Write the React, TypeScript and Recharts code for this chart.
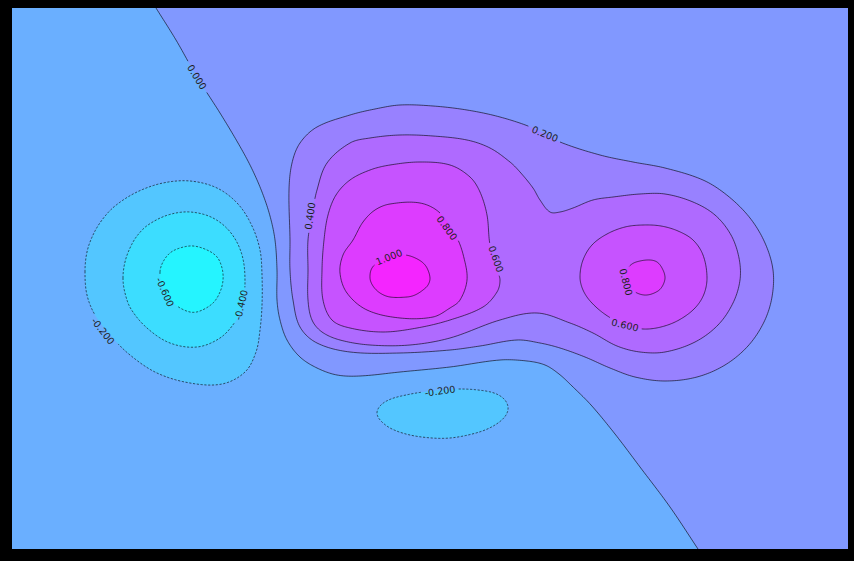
import React from "react";
import { ComposedChart, Scatter, XAxis, YAxis, CartesianGrid } from "recharts";

type Pt = [number, number];

// contour vertices, in plot units (x: 12..848, y: 8..549 downward)
const ZERO_LINE: Pt[] = [
  [156, 8], [176, 40], [197, 77], [220, 113], [238, 143], [251, 167], [262, 192],
  [270, 216], [275, 240], [277, 270], [277, 300], [280, 320], [287, 340], [300, 357],
  [317, 368], [337, 375], [360, 376], [400, 372], [450, 367], [500, 360], [527, 361],
  [545, 365], [559, 374], [572, 386], [591, 405], [615, 434], [640, 467], [670, 507],
  [698, 549],
];

const POS_02: Pt[] = [
  [400, 105], [433, 106], [467, 110], [500, 117], [533, 128], [560, 142], [600, 155],
  [633, 162], [665, 168], [703, 180], [728, 196], [750, 218], [765, 243], [773, 270],
  [772, 297], [764, 322], [748, 346], [725, 365], [697, 377], [665, 381], [635, 377],
  [610, 368], [585, 357], [560, 348], [540, 343], [517, 340], [480, 346], [450, 350],
  [400, 353], [350, 352], [317, 343], [300, 327], [293, 300], [290, 270], [290, 240],
  [289, 190], [292, 163], [300, 143], [317, 127], [350, 115], [375, 109],
];

const POS_04: Pt[] = [
  [308, 240], [308, 270], [308, 300], [312, 320], [322, 332], [340, 340], [370, 345],
  [410, 345], [450, 338], [500, 320], [537, 313], [570, 323], [593, 333], [617, 346],
  [640, 352], [665, 352], [695, 342], [718, 325], [733, 303], [740, 280], [739, 258],
  [731, 235], [715, 215], [693, 202], [665, 194], [640, 194], [613, 197], [593, 200],
  [573, 208], [560, 212], [550, 212], [540, 200], [533, 188], [520, 172], [510, 162],
  [490, 148], [467, 140], [433, 136], [400, 135], [370, 138], [350, 143], [327, 163],
  [317, 190], [312, 215],
];

const POS_06_LEFT: Pt[] = [
  [390, 165], [420, 162], [450, 165], [470, 177], [480, 192], [487, 215], [490, 245],
  [497, 270], [500, 280], [497, 292], [483, 307], [450, 320], [417, 328], [383, 332],
  [350, 328], [332, 320], [323, 300], [322, 270], [324, 240], [328, 215], [336, 195],
  [350, 180], [370, 170],
];

const POS_08_LEFT: Pt[] = [
  [390, 204], [420, 203], [440, 213], [457, 238], [464, 258], [467, 280], [460, 300],
  [450, 308], [433, 317], [400, 318], [367, 310], [347, 293], [340, 273], [343, 255],
  [353, 240], [363, 222], [375, 210],
];

const POS_10: Pt[] = [
  [370, 278], [372, 268], [380, 261], [393, 255], [405, 255], [413, 257], [422, 262],
  [427, 268], [430, 278], [428, 285], [423, 290], [415, 295], [407, 297], [390, 297],
  [380, 293], [373, 286],
];

const POS_06_RIGHT: Pt[] = [
  [580, 277], [583, 260], [592, 245], [607, 234], [625, 227], [643, 225], [661, 226],
  [678, 231], [693, 240], [703, 255], [707, 277], [704, 294], [695, 308], [679, 320],
  [661, 327], [643, 329], [625, 325], [606, 315], [591, 302], [583, 290],
];

const POS_08_RIGHT: Pt[] = [
  [627, 270], [632, 264], [640, 261], [650, 260], [657, 262], [662, 268], [665, 277],
  [663, 285], [658, 291], [647, 295], [637, 293], [630, 287], [626, 280],
];

const NEG_02_LEFT: Pt[] = [
  [85, 272], [87, 252], [93, 235], [102, 220], [115, 206], [137, 192], [163, 183],
  [190, 181], [217, 188], [238, 204], [252, 226], [260, 250], [262, 275], [262, 305],
  [260, 330], [256, 352], [245, 372], [222, 384], [190, 383], [157, 373], [130, 355],
  [110, 335], [95, 315], [87, 295],
];

const NEG_04: Pt[] = [
  [123, 278], [125, 262], [130, 248], [137, 236], [148, 225], [168, 215], [190, 212],
  [213, 218], [231, 233], [242, 255], [245, 282], [242, 307], [235, 322], [220, 338],
  [197, 347], [170, 343], [147, 328], [131, 309], [125, 293],
];

const NEG_06: Pt[] = [
  [160, 272], [163, 262], [170, 253], [180, 248], [193, 246], [207, 250], [217, 257],
  [222, 268], [223, 280], [220, 292], [213, 303], [200, 311], [190, 312], [177, 306],
  [168, 297], [162, 285],
];

const NEG_02_BOTTOM: Pt[] = [
  [377, 413], [381, 405], [391, 399], [406, 395], [423, 392], [441, 390], [460, 389],
  [478, 390], [494, 393], [504, 399], [508, 407], [506, 415], [498, 423], [485, 430],
  [468, 435], [450, 438], [432, 438], [410, 435], [392, 429], [381, 421],
];

const X_DOMAIN: Pt = [12, 848];
const Y_DOMAIN: Pt = [8, 549];
const RIGHT_CORNERS: Pt[] = [[848, 549], [848, 8]];

// cool colormap, one colour per filled band, lowest first
const BAND_COLORS = [
  "#25F4FF", "#3CDDFF", "#53C6FF", "#6AAFFF", "#8198FF",
  "#9881FF", "#AF6AFF", "#C653FF", "#DD3CFF", "#F425FF",
];

const LABELS = [
  { contour: "zero", x: 197, y: 77, text: "0.000", angle: 58 },
  { contour: "p02", x: 545, y: 134, text: "0.200", angle: 22 },
  { contour: "p04", x: 310, y: 216, text: "0.400", angle: -82 },
  { contour: "p06l", x: 496, y: 259, text: "0.600", angle: 71 },
  { contour: "p08l", x: 447, y: 228, text: "0.800", angle: 54 },
  { contour: "p10", x: 389, y: 257, text: "1.000", angle: -22 },
  { contour: "p06r", x: 625, y: 325, text: "0.600", angle: 13 },
  { contour: "p08r", x: 626, y: 282, text: "0.800", angle: 76 },
  { contour: "n02l", x: 103, y: 331, text: "-0.200", angle: 52 },
  { contour: "n04", x: 241, y: 305, text: "-0.400", angle: -77 },
  { contour: "n06", x: 165, y: 292, text: "-0.600", angle: 66 },
  { contour: "n02b", x: 440, y: 391, text: "-0.200", angle: -8 },
];

const CONTOURS = [
  { id: "zero", ring: ZERO_LINE, closed: false, band: 4, dashed: false },
  { id: "p02", ring: POS_02, closed: true, band: 5, dashed: false },
  { id: "p04", ring: POS_04, closed: true, band: 6, dashed: false },
  { id: "p06l", ring: POS_06_LEFT, closed: true, band: 7, dashed: false },
  { id: "p06r", ring: POS_06_RIGHT, closed: true, band: 7, dashed: false },
  { id: "p08l", ring: POS_08_LEFT, closed: true, band: 8, dashed: false },
  { id: "p08r", ring: POS_08_RIGHT, closed: true, band: 8, dashed: false },
  { id: "p10", ring: POS_10, closed: true, band: 9, dashed: false },
  { id: "n02l", ring: NEG_02_LEFT, closed: true, band: 2, dashed: true },
  { id: "n02b", ring: NEG_02_BOTTOM, closed: true, band: 2, dashed: true },
  { id: "n04", ring: NEG_04, closed: true, band: 1, dashed: true },
  { id: "n06", ring: NEG_06, closed: true, band: 0, dashed: true },
];

const FONT = "'DejaVu Sans', sans-serif";
const LABEL_SIZE = 9.6;

type XY = { x: number; y: number };

const toData = (pts: Pt[]) => pts.map(([x, y]) => ({ x, y }));

const unit = (a: XY, b: XY) => {
  const dx = b.x - a.x, dy = b.y - a.y;
  const len = Math.hypot(dx, dy) || 1;
  return { x: dx / len, y: dy / len };
};

// smooth cubic pieces, tangents scaled to each chord so uneven spacing stays round
function segments(pts: XY[], closed: boolean) {
  const n = pts.length;
  const get = (i: number) => (closed ? pts[(i + n) % n] : pts[Math.max(0, Math.min(n - 1, i))]);
  const out: XY[][] = [];
  const count = closed ? n : n - 1;
  for (let i = 0; i < count; i++) {
    const p0 = get(i - 1), p1 = get(i), p2 = get(i + 1), p3 = get(i + 2);
    const len = Math.hypot(p2.x - p1.x, p2.y - p1.y) / 3;
    const t1 = unit(p0, p2), t2 = unit(p1, p3);
    out.push([
      p1,
      { x: p1.x + t1.x * len, y: p1.y + t1.y * len },
      { x: p2.x - t2.x * len, y: p2.y - t2.y * len },
      p2,
    ]);
  }
  return out;
}

function fillPath(pts: XY[], closed: boolean, corners: number) {
  const ring = pts.slice(0, pts.length - corners);
  const segs = segments(ring, closed);
  let d = `M${ring[0].x},${ring[0].y}`;
  segs.forEach(([, c1, c2, p]) => {
    d += `C${c1.x},${c1.y} ${c2.x},${c2.y} ${p.x},${p.y}`;
  });
  pts.slice(pts.length - corners).forEach((p) => {
    d += `L${p.x},${p.y}`;
  });
  return d + "Z";
}

const textWidth = (s: string) =>
  s.split("").reduce((w, ch) => w + (ch === "." ? 0.318 : ch === "-" ? 0.361 : 0.636), 0) * LABEL_SIZE;

// dense sampling of the smooth curve, cut where the inline labels sit
function linePath(ring: XY[], closed: boolean, anchors: XY[], labels: typeof LABELS) {
  const boxes = anchors.map((a, i) => {
    const t = (labels[i].angle * Math.PI) / 180;
    return { cx: a.x, cy: a.y, c: Math.cos(t), s: Math.sin(t), hw: textWidth(labels[i].text) / 2 + 2.5 };
  });
  const inside = (p: XY) =>
    boxes.some((b) => {
      const dx = p.x - b.cx, dy = p.y - b.cy;
      return Math.abs(dx * b.c + dy * b.s) < b.hw && Math.abs(-dx * b.s + dy * b.c) < 7;
    });
  const samples: XY[] = [ring[0]];
  segments(ring, closed).forEach(([p1, c1, c2, p2]) => {
    for (let k = 1; k <= 14; k++) {
      const t = k / 14, u = 1 - t;
      samples.push({
        x: u * u * u * p1.x + 3 * u * u * t * c1.x + 3 * u * t * t * c2.x + t * t * t * p2.x,
        y: u * u * u * p1.y + 3 * u * u * t * c1.y + 3 * u * t * t * c2.y + t * t * t * p2.y,
      });
    }
  });
  let d = "";
  let pen = false;
  samples.forEach((p) => {
    if (inside(p)) {
      pen = false;
      return;
    }
    d += `${pen ? "L" : "M"}${p.x.toFixed(2)},${p.y.toFixed(2)}`;
    pen = true;
  });
  return d;
}

const noDot = () => <g />;

const renderLabel = (props: any) => {
  const { cx, cy, payload } = props;
  return (
    <text
      x={cx}
      y={cy}
      transform={`rotate(${payload.angle} ${cx} ${cy})`}
      textAnchor="middle"
      dominantBaseline="central"
      fontFamily={FONT}
      fontSize={LABEL_SIZE}
      fill="#1e1e1e"
    >
      {payload.text}
    </text>
  );
};

export default function App() {
  return (
    <div style={{ position: "absolute", left: 0, top: 0, width: 854, height: 561, background: "#000" }}>
      <ComposedChart width={854} height={561} margin={{ top: 8, right: 6, bottom: 12, left: 12 }}>
        <CartesianGrid fill={BAND_COLORS[3]} stroke="none" horizontal={false} vertical={false} />
        <XAxis type="number" dataKey="x" domain={X_DOMAIN} allowDataOverflow hide />
        <YAxis type="number" dataKey="y" domain={Y_DOMAIN} reversed allowDataOverflow hide />

        {CONTOURS.map((c) => {
          const corners = c.closed ? [] : RIGHT_CORNERS;
          return (
            <Scatter
              key={`fill-${c.id}`}
              data={toData([...c.ring, ...corners])}
              shape={noDot}
              line={(p: any) => (
                <path d={fillPath(p.points, c.closed, corners.length)} fill={BAND_COLORS[c.band]} stroke="none" />
              )}
              isAnimationActive={false}
            />
          );
        })}

        {CONTOURS.map((c) => {
          const labels = LABELS.filter((l) => l.contour === c.id);
          return (
            <Scatter
              key={`line-${c.id}`}
              data={[...toData(c.ring), ...labels.map((l) => ({ x: l.x, y: l.y }))]}
              shape={noDot}
              line={(p: any) => (
                <path
                  d={linePath(p.points.slice(0, c.ring.length), c.closed, p.points.slice(c.ring.length), labels)}
                  fill="none"
                  stroke="#000"
                  strokeOpacity={0.85}
                  strokeWidth={0.7}
                  strokeDasharray={c.dashed ? "2.2 1.6" : undefined}
                />
              )}
              isAnimationActive={false}
            />
          );
        })}

        <Scatter data={LABELS} shape={renderLabel} isAnimationActive={false} />
      </ComposedChart>
    </div>
  );
}
